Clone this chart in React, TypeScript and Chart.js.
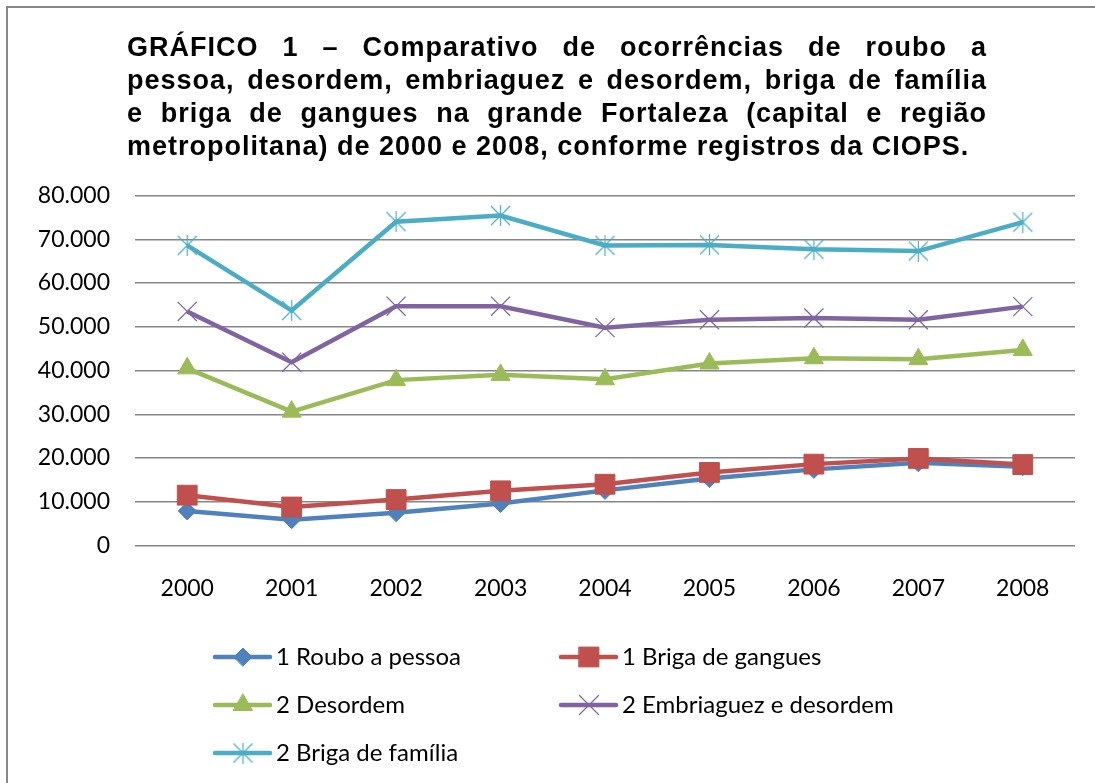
import React, { useEffect, useRef } from 'react';
import { Chart, registerables } from 'chart.js';
import * as helpers from 'chart.js/helpers';

Chart.register(...registerables);

// ---------- data ----------
const years = ['2000', '2001', '2002', '2003', '2004', '2005', '2006', '2007', '2008'];
const rouboPessoa = [7900, 5900, 7500, 9600, 12600, 15300, 17400, 18900, 18000];
const brigaGangues = [11500, 8800, 10500, 12500, 14000, 16700, 18600, 19900, 18500];
const desordem = [40500, 30600, 37800, 39000, 38000, 41600, 42800, 42600, 44700];
const embriaguez = [53500, 41900, 54700, 54700, 49800, 51600, 52000, 51600, 54600];
const brigaFamilia = [68600, 53700, 74000, 75400, 68600, 68700, 67700, 67300, 73900];
const seriesNames = [
  '1 Roubo a pessoa',
  '1 Briga de gangues',
  '2 Desordem',
  '2 Embriaguez e desordem',
  '2 Briga de família',
];
const yMin = 0;
const yMax = 80000;
const yStep = 10000;
const titleLines = [
  'GRÁFICO 1 – Comparativo de ocorrências de roubo a',
  'pessoa, desordem, embriaguez e desordem, briga de família',
  'e briga de gangues na grande Fortaleza (capital e região',
  'metropolitana) de 2000 e 2008, conforme registros da CIOPS.',
];

// ---------- styles ----------
const colors = ['#4F81BD', '#C0504D', '#9BBB59', '#8064A2', '#4BACC6'];
const FONT = 'Lato';
const legendSlots = [
  { x: 215, y: 657 },
  { x: 561, y: 657 },
  { x: 215, y: 705 },
  { x: 561, y: 705 },
  { x: 215, y: 753 },
];

function formatThousands(v: number): string {
  const s = Math.round(v).toString();
  return s.replace(/\B(?=(\d{3})+(?!\d))/g, '.');
}

function makeAsterisk(color: string, size: number): HTMLCanvasElement {
  const c = document.createElement('canvas');
  c.width = size + 2;
  c.height = size + 2;
  const ctx = c.getContext('2d')!;
  ctx.strokeStyle = color;
  ctx.lineWidth = 1.2;
  ctx.beginPath();
  ctx.moveTo(1, 1);
  ctx.lineTo(size + 1, size + 1);
  ctx.moveTo(size + 1, 1);
  ctx.lineTo(1, size + 1);
  ctx.moveTo(c.width / 2, 0);
  ctx.lineTo(c.width / 2, c.height);
  ctx.stroke();
  return c;
}

const legendPlugin = {
  id: 'customLegend',
  afterDraw(chart: any) {
    const ctx = chart.ctx as CanvasRenderingContext2D;
    chart.data.datasets.forEach((ds: any, i: number) => {
      const slot = legendSlots[i];
      if (!slot) return;
      ctx.save();
      ctx.strokeStyle = ds.borderColor;
      ctx.lineWidth = 4.5;
      ctx.lineCap = 'round';
      ctx.beginPath();
      ctx.moveTo(slot.x, slot.y);
      ctx.lineTo(slot.x + 55, slot.y);
      ctx.stroke();
      const mx = slot.x + 28;
      if (ds.pointStyle instanceof HTMLCanvasElement) {
        const img = ds.pointStyle as HTMLCanvasElement;
        ctx.drawImage(img, mx - img.width / 2, slot.y - img.height / 2);
      } else {
        ctx.fillStyle = ds.pointBackgroundColor;
        ctx.strokeStyle = ds.pointBorderColor;
        ctx.lineWidth = ds.pointBorderWidth;
        helpers.drawPoint(
          ctx,
          {
            pointStyle: ds.pointStyle,
            radius: ds.pointRadius,
            borderWidth: ds.pointBorderWidth,
            rotation: 0,
          } as any,
          mx,
          slot.y
        );
      }
      ctx.fillStyle = '#000';
      ctx.font = `24px ${FONT}`;
      ctx.textAlign = 'left';
      ctx.textBaseline = 'middle';
      ctx.fillText(ds.label, slot.x + 61, slot.y);
      ctx.restore();
    });
  },
};

export default function App() {
  const ref = useRef<HTMLCanvasElement>(null);

  useEffect(() => {
    if (!ref.current) return;
    const star = makeAsterisk(colors[4], 19);
    const values = [rouboPessoa, brigaGangues, desordem, embriaguez, brigaFamilia];
    const styles: any[] = [
      { pointStyle: 'rectRot', pointRadius: 9, pointBorderWidth: 1 },
      { pointStyle: 'rect', pointRadius: 14, pointBorderWidth: 1 },
      { pointStyle: 'triangle', pointRadius: 11, pointBorderWidth: 1 },
      { pointStyle: 'crossRot', pointRadius: 13.5, pointBorderWidth: 1.2 },
      { pointStyle: star, pointRadius: 10, pointBorderWidth: 1.2 },
    ];
    const datasets = values.map((data, i) => ({
      label: seriesNames[i],
      data,
      borderColor: colors[i],
      backgroundColor: colors[i],
      pointBackgroundColor: colors[i],
      pointBorderColor: colors[i],
      borderWidth: 4.5,
      tension: 0,
      order: -i,
      ...styles[i],
    }));

    const chart = new Chart(ref.current, {
      type: 'line',
      data: { labels: years, datasets },
      options: {
        responsive: false,
        animation: false,
        layout: { padding: { left: 0, right: 20, top: 195.5, bottom: 177.5 } },
        plugins: {
          legend: { display: false },
          title: { display: false },
          tooltip: { enabled: false },
        },
        scales: {
          x: {
            type: 'category',
            offset: true,
            grid: { display: false, drawTicks: false },
            border: { display: false },
            ticks: {
              color: '#000',
              font: { family: FONT, size: 23 },
              padding: 29,
              maxRotation: 0,
            },
            afterFit: (scale: any) => {
              scale.height = 60;
            },
          },
          y: {
            min: yMin,
            max: yMax,
            grid: { color: '#868686', lineWidth: 1.5, drawTicks: false },
            border: { display: false },
            ticks: {
              stepSize: yStep,
              color: '#000',
              font: { family: FONT, size: 23 },
              padding: 25,
              callback: (v: any) => formatThousands(Number(v)),
            },
            afterFit: (scale: any) => {
              scale.width = 135;
            },
          },
        },
      },
      plugins: [legendPlugin],
    });
    return () => chart.destroy();
  }, []);

  return (
    <div
      style={{
        position: 'absolute',
        left: 0,
        top: 0,
        width: 1095,
        height: 783,
        overflow: 'hidden',
        background: '#fff',
      }}
    >
      <div
        style={{
          position: 'absolute',
          left: 6,
          top: 6,
          width: 1200,
          height: 900,
          borderLeft: '2px solid #878787',
          borderTop: '2px solid #878787',
        }}
      />
      <canvas
        ref={ref}
        width={1095}
        height={783}
        style={{ position: 'absolute', left: 0, top: 0, width: 1095, height: 783 }}
      />
      <div
        style={{
          position: 'absolute',
          left: 127,
          top: 31,
          width: 860,
          fontFamily: '"Liberation Sans", Arial, sans-serif',
          fontWeight: 'bold',
          fontSize: 27,
          letterSpacing: '1px',
          lineHeight: '33px',
          color: '#000',
        }}
      >
        {titleLines.map((line, i) => (
          <div
            key={i}
            style={{
              whiteSpace: 'nowrap',
              textAlign: i < titleLines.length - 1 ? 'justify' : 'left',
              textAlignLast: i < titleLines.length - 1 ? 'justify' : 'left',
            }}
          >
            {line}
          </div>
        ))}
      </div>
    </div>
  );
}
